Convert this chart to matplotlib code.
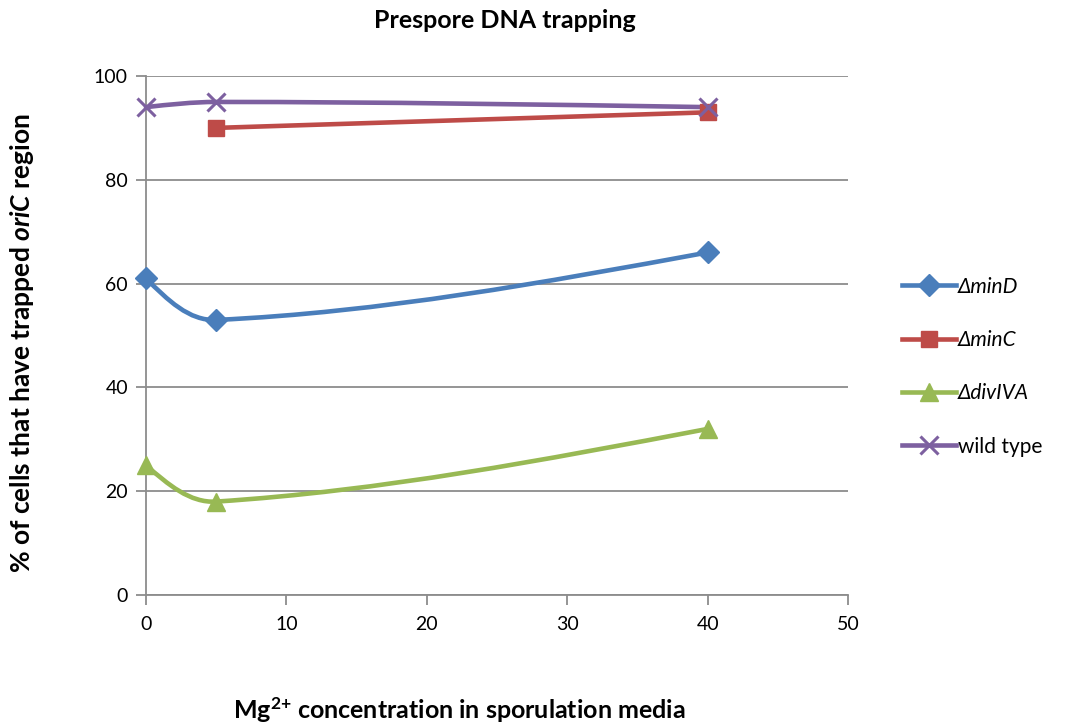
import matplotlib
matplotlib.use("Agg")
import numpy as np
import matplotlib.pyplot as plt
from matplotlib.path import Path
from matplotlib.patches import PathPatch
from matplotlib.lines import Line2D

# --------- Data ---------
mg = [0, 5, 40]
series_names = ["ΔminD", "ΔminC", "ΔdivIVA", "wild type"]
min_d = [61, 53, 66]
min_c_x = [5, 40]
min_c = [90, 93]
div_iva = [25, 18, 32]
wild_type = [94, 95, 94]

colors = ["#4A7EBB", "#BE4B48", "#98B954", "#7D60A0"]
markers = ["D", "s", "^", "x"]

plt.rcParams.update({
    "font.family": ["Lato", "DejaVu Sans"],
    "mathtext.fontset": "custom",
    "mathtext.rm": "Lato:bold",
    "mathtext.bf": "Lato:bold",
    "mathtext.it": "Lato:bold:italic",
})


def smooth_path(ax, xs, ys):
    # Excel-like smoothed line, built in pixel space then mapped back to data
    p = ax.transData.transform(np.column_stack([xs, ys]))
    n = len(p)
    if n == 2:
        ctrl = [p[0] + (p[1] - p[0]) / 3, p[1] - (p[1] - p[0]) / 3]
        verts = [p[0], ctrl[0], ctrl[1], p[1]]
    else:
        tang = [None] * n
        for i in range(1, n - 1):
            d = p[i + 1] - p[i - 1]
            tang[i] = d / np.hypot(*d)
        verts = [p[0]]
        for i in range(n - 1):
            L = np.hypot(*(p[i + 1] - p[i]))
            c1 = p[i] + tang[i] * L / 3 if tang[i] is not None else None
            c2 = p[i + 1] - tang[i + 1] * L / 3 if tang[i + 1] is not None else None
            if c1 is None:
                c1 = p[i] + (c2 - p[i]) / 2
            if c2 is None:
                c2 = p[i + 1] + (c1 - p[i + 1]) / 2
            verts += [c1, c2, p[i + 1]]
    verts = ax.transData.inverted().transform(np.array(verts))
    codes = [Path.MOVETO] + [Path.CURVE4] * (len(verts) - 1)
    return Path(verts, codes)


fig = plt.figure(figsize=(10.75, 7.28), dpi=100)
ax = fig.add_axes([146 / 1075, 1 - 595 / 728, 702 / 1075, 519 / 728])
ax.set_xlim(0, 50)
ax.set_ylim(0, 100)

all_series = [(mg, min_d), (min_c_x, min_c), (mg, div_iva), (mg, wild_type)]
lw = 3.3
handles = []
for (xs, ys), name, col, mk in zip(all_series, series_names, colors, markers):
    ax.add_patch(PathPatch(smooth_path(ax, xs, ys), facecolor="none", edgecolor=col,
                           lw=lw, capstyle="round", zorder=3, clip_on=False))
    if mk == "x":
        ax.plot(xs, ys, ls="none", marker=mk, ms=13, mew=2.2, color=col, zorder=4,
                clip_on=False)
        h = Line2D([], [], color=col, lw=lw, marker=mk, ms=13, mew=2.2)
    else:
        ms = {"D": 11, "s": 12, "^": 13}[mk]
        ax.plot(xs, ys, ls="none", marker=mk, ms=ms, color=col, mec=col, zorder=4,
                clip_on=False)
        h = Line2D([], [], color=col, lw=lw, marker=mk, ms=ms, mec=col)
    handles.append(h)

ax.set_xticks(range(0, 51, 10))
ax.set_yticks(range(0, 101, 20))
ax.grid(True, axis="y", color="#8C8C8C", lw=1.3)
ax.set_axisbelow(True)
for s in ["top", "right"]:
    ax.spines[s].set_visible(False)
for s in ["left", "bottom"]:
    ax.spines[s].set_color("#8C8C8C")
    ax.spines[s].set_linewidth(1.3)
ax.tick_params(axis="both", colors="#8C8C8C", length=7, width=1.3,
               labelcolor="black", labelsize=14)
ax.tick_params(axis="x", pad=8)
ax.tick_params(axis="y", pad=6)

# --------- Texts ---------
fig.text(505 / 1075, 1 - 20 / 728, "Prespore DNA trapping", ha="center", va="center",
         fontsize=18, fontweight="bold")
fig.text(459 / 1075, 1 - 710 / 728, "Mg$^{2{+}}$ concentration in sporulation media",
         ha="center", va="center", fontsize=18, fontweight="bold")
fig.text(22 / 1075, 1 - 343 / 728, r"% of cells that have trapped $\mathit{oriC}$ region",
         ha="center", va="center", rotation=90, fontsize=19, fontweight="bold")

leg = fig.legend(handles, series_names, loc="upper left",
                 bbox_to_anchor=(883 / 1075, 1 - 258 / 728), frameon=False,
                 fontsize=15, handlelength=2.6, labelspacing=1.6, handletextpad=0.1)
for t in leg.get_texts()[:3]:
    t.set_fontstyle("italic")

fig.savefig("out.png", dpi=100)
